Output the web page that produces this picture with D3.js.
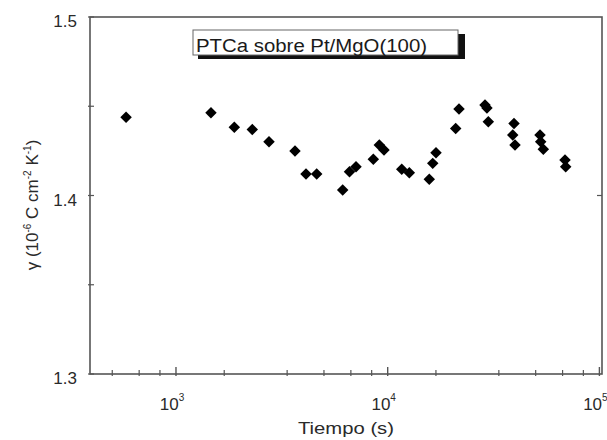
<!DOCTYPE html>
<html>
<head>
<meta charset="utf-8">
<script src="https://cdn.jsdelivr.net/npm/d3@7"></script>
<style>
  body { margin: 0; background: #fff; }
  svg { font-family: "Liberation Sans", Arial, sans-serif; }
</style>
</head>
<body>
<div id="chart"></div>
<script>
// time (s) and gamma (10^-6 C cm^-2 K^-1)
const tiempo = [
    581, 1463, 1886, 2293, 2750, 3648, 4113, 4620, 6131, 6600, 7085,
    8551, 9128, 9605, 11650, 12650, 15720, 16320, 16910, 20950, 21720,
    28820, 29440, 29870, 39510, 38960, 39930, 52420, 52810, 54330,
    68790, 69320
];
const gamma = [
    1.4438, 1.4464, 1.4382, 1.4370, 1.4301, 1.4249, 1.4120, 1.4120,
    1.4031, 1.4133, 1.4161, 1.4203, 1.4283, 1.4255, 1.4147, 1.4128,
    1.4091, 1.4180, 1.4240, 1.4376, 1.4485, 1.4507, 1.4490, 1.4413,
    1.4404, 1.4339, 1.4283, 1.4339, 1.4301, 1.4259, 1.4199, 1.4161
];
const xMajor = [1e3, 1e4, 1e5];
const xMinorMantissa = [1.69, 3.35, 5.0, 6.7, 8.4];
const xDecades = [1e2, 1e3, 1e4];
const yMajor = [1.3, 1.4, 1.5];
const yMinor = [1.35, 1.45];
const titulo = "PTCa sobre Pt/MgO(100)";

const width = 607, height = 440;
const margin = { top: 17, right: 5, bottom: 66, left: 90 };

const svg = d3.select("#chart").append("svg")
    .attr("width", width)
    .attr("height", height);

const x = d3.scaleLog()
    .domain([392.5, 102870])
    .range([margin.left, width - margin.right]);
const y = d3.scaleLinear()
    .domain([1.3, 1.5])
    .range([height - margin.bottom, margin.top]);

const axisColor = "#555";
const textColor = "#2a2a2a";
const x0 = x.range()[0], x1 = x.range()[1];
const y0 = y.range()[0], y1 = y.range()[1];

// frame
svg.append("rect")
    .attr("x", x0).attr("y", y1)
    .attr("width", x1 - x0).attr("height", y0 - y1)
    .attr("fill", "none")
    .attr("stroke", axisColor)
    .attr("stroke-width", 1.6);

// x ticks
const xMinor = [];
xDecades.forEach(d => xMinorMantissa.forEach(m => {
    const v = d * m;
    if (v > x.domain()[0] && v < x.domain()[1]) xMinor.push(v);
}));
svg.append("g").selectAll("line.minor")
    .data(xMinor).enter().append("line")
    .attr("x1", d => x(d)).attr("x2", d => x(d))
    .attr("y1", y0 - 4).attr("y2", y0 + 2)
    .attr("stroke", axisColor).attr("stroke-width", 1.2);
svg.append("g").selectAll("line.major")
    .data(xMajor.filter(d => d < x.domain()[1])).enter().append("line")
    .attr("x1", d => x(d)).attr("x2", d => x(d))
    .attr("y1", y0 - 7).attr("y2", y0 + 2)
    .attr("stroke", axisColor).attr("stroke-width", 1.4);

const xLab = svg.append("g").selectAll("text")
    .data(xMajor).enter().append("text")
    .attr("x", d => x(d) - 4)
    .attr("y", 410)
    .attr("text-anchor", "middle")
    .attr("font-size", 17)
    .attr("fill", textColor);
xLab.append("tspan").text("10");
xLab.append("tspan")
    .attr("dy", -9)
    .attr("font-size", 10)
    .text(d => Math.round(Math.log10(d)));

// y ticks
svg.append("g").selectAll("line")
    .data(yMajor.concat(yMinor)).enter().append("line")
    .attr("x1", x0 - 2).attr("x2", x0 + 4)
    .attr("y1", d => y(d)).attr("y2", d => y(d))
    .attr("stroke", axisColor).attr("stroke-width", 1.2);
svg.append("g").selectAll("line")
    .data([1.4]).enter().append("line")
    .attr("x1", x1 - 5).attr("x2", x1)
    .attr("y1", d => y(d)).attr("y2", d => y(d))
    .attr("stroke", axisColor).attr("stroke-width", 1.2);
svg.append("g").selectAll("text")
    .data(yMajor).enter().append("text")
    .attr("x", 77)
    .attr("y", d => y(d) + 10)
    .attr("text-anchor", "end")
    .attr("font-size", 17)
    .attr("fill", textColor)
    .text(d => d.toFixed(1));

// axis titles
svg.append("text")
    .attr("x", 346).attr("y", 434)
    .attr("text-anchor", "middle")
    .attr("font-size", 17)
    .attr("textLength", 96)
    .attr("lengthAdjust", "spacingAndGlyphs")
    .attr("fill", textColor)
    .text("Tiempo (s)");

const yt = svg.append("text")
    .attr("transform", "translate(38,205) rotate(-90)")
    .attr("text-anchor", "middle")
    .attr("font-size", 17)
    .attr("fill", textColor);
yt.append("tspan").text("γ (10");
yt.append("tspan").attr("dy", -7).attr("font-size", 10).text("-6");
yt.append("tspan").attr("dy", 7).text(" C cm");
yt.append("tspan").attr("dy", -7).attr("font-size", 10).text("-2");
yt.append("tspan").attr("dy", 7).text(" K");
yt.append("tspan").attr("dy", -7).attr("font-size", 10).text("-1");
yt.append("tspan").attr("dy", 7).text(")");

// title box with shadow
svg.append("rect")
    .attr("x", 198).attr("y", 34)
    .attr("width", 267).attr("height", 25)
    .attr("fill", "#111");
svg.append("rect")
    .attr("x", 193).attr("y", 30)
    .attr("width", 265).attr("height", 25)
    .attr("fill", "#fff")
    .attr("stroke", "#666")
    .attr("stroke-width", 1);
svg.append("text")
    .attr("x", 196).attr("y", 52)
    .attr("font-size", 18)
    .attr("textLength", 231)
    .attr("lengthAdjust", "spacingAndGlyphs")
    .attr("fill", "#1a1a1a")
    .text(titulo);

// data points
const data = tiempo.map((t, i) => ({ t: t, g: gamma[i] }));
svg.append("g").selectAll("path")
    .data(data).enter().append("path")
    .attr("d", d3.symbol(d3.symbolSquare, 66))
    .attr("transform", d => `translate(${x(d.t)},${y(d.g)}) rotate(45)`)
    .attr("fill", "#000");
</script>
</body>
</html>
